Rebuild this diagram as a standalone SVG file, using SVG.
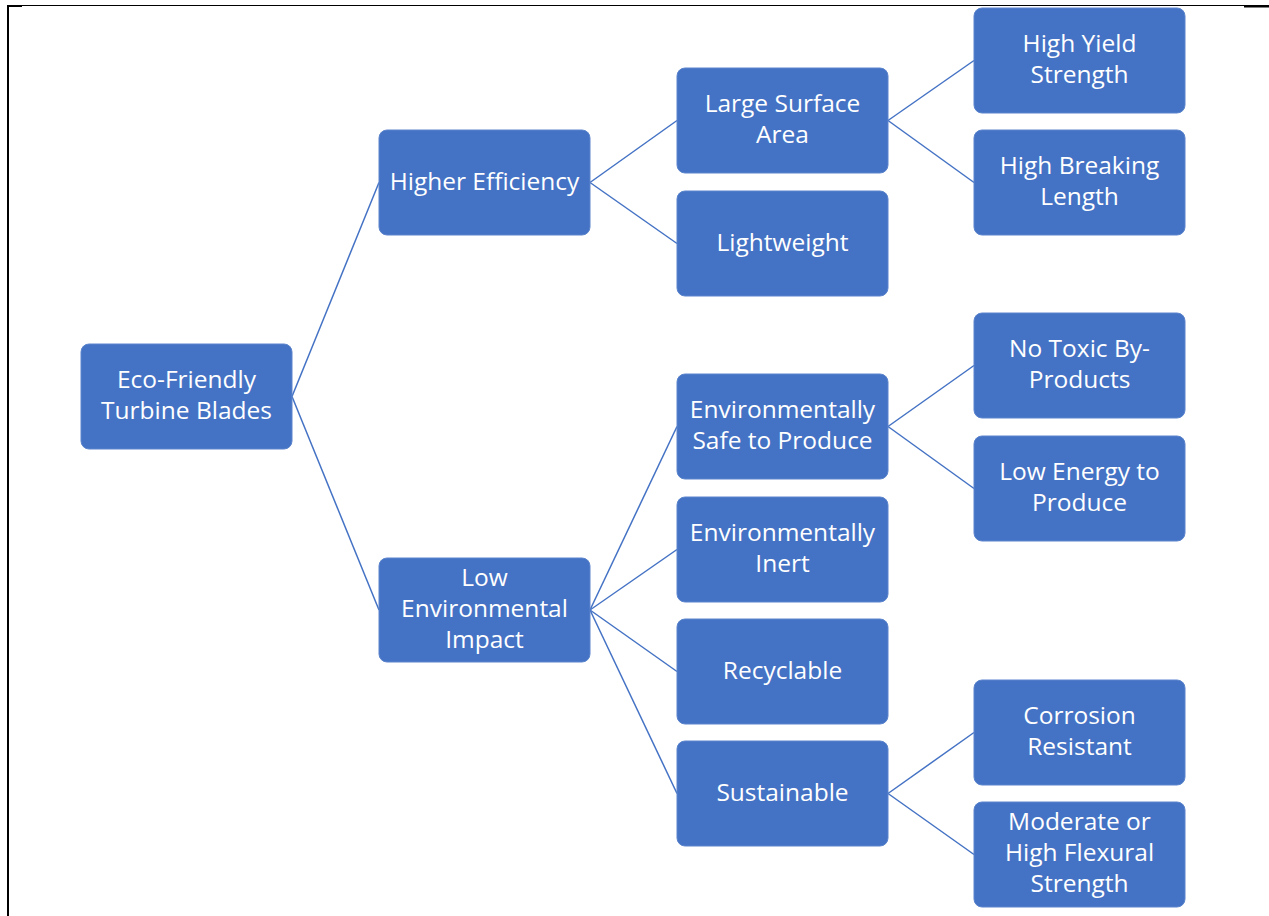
<svg xmlns="http://www.w3.org/2000/svg" width="1269" height="916" viewBox="0 0 1269 916">
<style>
.box{fill:#4472C4;stroke:#5B84CC;stroke-width:1}
.t{fill:#FFFFFF;font-family:"Open Sans","Noto Sans",sans-serif;font-size:24.5px;text-anchor:middle}
.c{stroke:#4472C4;stroke-width:1.5;fill:none}
.frame{stroke:#000;fill:none}
</style>
<rect width="1269" height="916" fill="#FFFFFF"/>
<g id="frame">
<line class="frame" x1="8" y1="5.5" x2="1269" y2="5.5" stroke-width="1.2"/>
<line class="frame" x1="8" y1="5" x2="8" y2="916" stroke-width="2"/>
<line class="frame" x1="7" y1="6" x2="22" y2="6" stroke-width="2"/>
<line class="frame" x1="1244" y1="6.5" x2="1269" y2="6.5" stroke-width="2"/>
</g>
<g id="connectors">
<line class="c" x1="292" y1="396.5" x2="379" y2="182.5"/>
<line class="c" x1="292" y1="396.5" x2="379" y2="610"/>
<line class="c" x1="590" y1="182.5" x2="677" y2="120.5"/>
<line class="c" x1="590" y1="182.5" x2="677" y2="243.5"/>
<line class="c" x1="888" y1="120.5" x2="974" y2="60.5"/>
<line class="c" x1="888" y1="120.5" x2="974" y2="182.5"/>
<line class="c" x1="590" y1="610" x2="677" y2="426.5"/>
<line class="c" x1="590" y1="610" x2="677" y2="549.5"/>
<line class="c" x1="590" y1="610" x2="677" y2="671.5"/>
<line class="c" x1="590" y1="610" x2="677" y2="793.5"/>
<line class="c" x1="888" y1="426.5" x2="974" y2="365.5"/>
<line class="c" x1="888" y1="426.5" x2="974" y2="488.5"/>
<line class="c" x1="888" y1="793.5" x2="974" y2="732.5"/>
<line class="c" x1="888" y1="793.5" x2="974" y2="854.5"/>
</g>
<g id="root"><rect class="box" x="81" y="344" width="211" height="105" rx="8"/><text class="t" x="186.5" y="388">Eco-Friendly</text><text class="t" x="186.5" y="419">Turbine Blades</text></g>
<g id="higher-efficiency"><rect class="box" x="379" y="130" width="211" height="105" rx="8"/><text class="t" x="484.5" y="190">Higher Efficiency</text></g>
<g id="low-impact"><rect class="box" x="379" y="558" width="211" height="104" rx="8"/><text class="t" x="484.5" y="586">Low</text><text class="t" x="484.5" y="617">Environmental</text><text class="t" x="484.5" y="648">Impact</text></g>
<g id="large-surface"><rect class="box" x="677" y="68" width="211" height="105" rx="8"/><text class="t" x="782.5" y="112">Large Surface</text><text class="t" x="782.5" y="143">Area</text></g>
<g id="lightweight"><rect class="box" x="677" y="191" width="211" height="105" rx="8"/><text class="t" x="782.5" y="251">Lightweight</text></g>
<g id="env-safe"><rect class="box" x="677" y="374" width="211" height="105" rx="8"/><text class="t" x="782.5" y="418">Environmentally</text><text class="t" x="782.5" y="449">Safe to Produce</text></g>
<g id="env-inert"><rect class="box" x="677" y="497" width="211" height="105" rx="8"/><text class="t" x="782.5" y="541">Environmentally</text><text class="t" x="782.5" y="572">Inert</text></g>
<g id="recyclable"><rect class="box" x="677" y="619" width="211" height="105" rx="8"/><text class="t" x="782.5" y="679">Recyclable</text></g>
<g id="sustainable"><rect class="box" x="677" y="741" width="211" height="105" rx="8"/><text class="t" x="782.5" y="801">Sustainable</text></g>
<g id="yield"><rect class="box" x="974" y="8" width="211" height="105" rx="8"/><text class="t" x="1079.5" y="52">High Yield</text><text class="t" x="1079.5" y="83">Strength</text></g>
<g id="breaking"><rect class="box" x="974" y="130" width="211" height="105" rx="8"/><text class="t" x="1079.5" y="174">High Breaking</text><text class="t" x="1079.5" y="205">Length</text></g>
<g id="no-toxic"><rect class="box" x="974" y="313" width="211" height="105" rx="8"/><text class="t" x="1079.5" y="357">No Toxic By-</text><text class="t" x="1079.5" y="388">Products</text></g>
<g id="low-energy"><rect class="box" x="974" y="436" width="211" height="105" rx="8"/><text class="t" x="1079.5" y="480">Low Energy to</text><text class="t" x="1079.5" y="511">Produce</text></g>
<g id="corrosion"><rect class="box" x="974" y="680" width="211" height="105" rx="8"/><text class="t" x="1079.5" y="724">Corrosion</text><text class="t" x="1079.5" y="755">Resistant</text></g>
<g id="flexural"><rect class="box" x="974" y="802" width="211" height="105" rx="8"/><text class="t" x="1079.5" y="830">Moderate or</text><text class="t" x="1079.5" y="861">High Flexural</text><text class="t" x="1079.5" y="892">Strength</text></g>
</svg>
